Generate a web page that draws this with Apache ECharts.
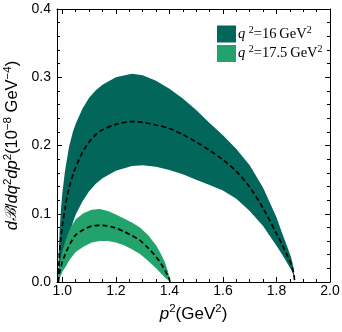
<!DOCTYPE html>
<html>
<head>
<meta charset="utf-8">
<script src="https://cdn.jsdelivr.net/npm/echarts@6/dist/echarts.min.js"></script>
<style>
  html, body { margin: 0; padding: 0; background: #fff; }
  #chart { width: 342px; height: 332px; }
</style>
</head>
<body>
<div id="chart"></div>
<script>
// q^2 = 16 GeV^2 band (dark)
var xDark = [0.985, 0.987, 0.99, 0.995, 1.0, 1.01, 1.025, 1.04, 1.05, 1.075, 1.1, 1.125, 1.15, 1.2, 1.26, 1.3, 1.35, 1.4, 1.45, 1.5, 1.55, 1.6, 1.65, 1.7, 1.75, 1.8, 1.82, 1.84, 1.855, 1.862, 1.866, 1.868];
var darkUpper = [0, 0.045, 0.078, 0.108, 0.13, 0.163, 0.198, 0.221, 0.232, 0.254, 0.27, 0.281, 0.289, 0.3, 0.305, 0.303, 0.295, 0.283, 0.269, 0.252, 0.233, 0.215, 0.195, 0.171, 0.138, 0.095, 0.073, 0.052, 0.036, 0.024, 0.011, 0];
var darkLower = [0, 0.006, 0.013, 0.023, 0.033, 0.05, 0.07, 0.088, 0.099, 0.118, 0.133, 0.144, 0.152, 0.163, 0.17, 0.171, 0.169, 0.164, 0.158, 0.15, 0.142, 0.134, 0.122, 0.104, 0.082, 0.053, 0.041, 0.028, 0.018, 0.011, 0.005, 0];
var darkMid = [0, 0.025, 0.045, 0.066, 0.082, 0.108, 0.138, 0.158, 0.168, 0.19, 0.205, 0.216, 0.223, 0.231, 0.235, 0.234, 0.23, 0.225, 0.216, 0.205, 0.193, 0.179, 0.162, 0.139, 0.108, 0.071, 0.056, 0.039, 0.026, 0.017, 0.008, 0];

// q^2 = 17.5 GeV^2 band (light)
var xLight = [0.985, 0.988, 0.995, 1.0, 1.01, 1.02, 1.03, 1.05, 1.08, 1.11, 1.14, 1.17, 1.2, 1.23, 1.26, 1.29, 1.32, 1.35, 1.37, 1.385, 1.395, 1.4, 1.402];
var lightUpper = [0, 0.02, 0.036, 0.045, 0.058, 0.069, 0.079, 0.092, 0.101, 0.106, 0.107, 0.104, 0.099, 0.093, 0.087, 0.08, 0.069, 0.054, 0.04, 0.027, 0.015, 0.007, 0];
var lightLower = [0, 0.004, 0.01, 0.015, 0.021, 0.028, 0.034, 0.044, 0.052, 0.058, 0.06, 0.06, 0.058, 0.054, 0.048, 0.041, 0.031, 0.02, 0.012, 0.006, 0.003, 0.001, 0];
var lightMid = [0, 0.012, 0.022, 0.03, 0.04, 0.049, 0.057, 0.069, 0.077, 0.082, 0.083, 0.082, 0.079, 0.074, 0.068, 0.061, 0.05, 0.037, 0.026, 0.016, 0.008, 0.004, 0];

var xMajor = [1.0, 1.2, 1.4, 1.6, 1.8, 2.0];
var xMinor = [1.05, 1.1, 1.15, 1.25, 1.3, 1.35, 1.45, 1.5, 1.55, 1.65, 1.7, 1.75, 1.85, 1.9, 1.95];
var yMajor = [0, 0.1, 0.2, 0.3, 0.4];
var yMinor = [0.02, 0.04, 0.06, 0.08, 0.12, 0.14, 0.16, 0.18, 0.22, 0.24, 0.26, 0.28, 0.32, 0.34, 0.36, 0.38];

var names = ['q16', 'q175'];
var DARK = '#03665a';
var LIGHT = '#22a36b';
var SANS = 'Liberation Sans';
var SERIF = 'Liberation Serif';

var chart = echarts.init(document.getElementById('chart'));

function zip(xs, ys) {
    return xs.map(function (x, i) { return [x, ys[i]]; });
}

// filled region between lo and hi, one polygon
function band(name, xs, lo, hi, color) {
    return {
        name: name,
        type: 'custom',
        silent: true,
        itemStyle: {color: color},
        data: xs.map(function (x, i) { return [x, lo[i], hi[i]]; }),
        encode: {x: 0, y: [1, 2]},
        renderItem: function (params, api) {
            if (params.dataIndex !== 0) return;
            var pts = [];
            for (var i = 0; i < xs.length; i++) pts.push(api.coord([xs[i], hi[i]]));
            for (var j = xs.length - 1; j >= 0; j--) pts.push(api.coord([xs[j], lo[j]]));
            return {type: 'polygon', shape: {points: pts}, style: {fill: color}};
        }
    };
}

function dashed(xs, ys) {
    return {
        type: 'line',
        silent: true,
        symbol: 'none',
        smooth: 0.3,
        z: 5,
        lineStyle: {color: '#000', width: 1.7, type: [5, 3]},
        data: zip(xs, ys)
    };
}

function xAx(pos, ticks, len, main) {
    return {
        type: 'value', position: pos, min: 0.98, max: 2.0,
        axisLine: {show: main, onZero: false, lineStyle: {color: '#000', width: 1}},
        axisTick: {show: true, inside: true, length: len, customValues: ticks, lineStyle: {color: '#000'}},
        axisLabel: {show: pos === 'bottom' && main, customValues: ticks, margin: 2,
            fontFamily: SANS, fontSize: 14, color: '#000',
            formatter: function (v) { return v.toFixed(1); }},
        splitLine: {show: false}
    };
}

function yAx(pos, ticks, len, main) {
    return {
        type: 'value', position: pos, min: 0, max: 0.4,
        axisLine: {show: main, onZero: false, lineStyle: {color: '#000', width: 1}},
        axisTick: {show: true, inside: true, length: len, customValues: ticks, lineStyle: {color: '#000'}},
        axisLabel: {show: pos === 'left' && main, customValues: ticks, margin: 6,
            fontFamily: SANS, fontSize: 14, color: '#000',
            formatter: function (v) { return v.toFixed(1); }},
        splitLine: {show: false}
    };
}

var supStyle = {fontFamily: SANS, fontSize: 11.5, lineHeight: 10, verticalAlign: 'top', color: '#000'};

var xAxes = [xAx('bottom', xMajor, 5, true), xAx('bottom', xMinor, 3, false),
             xAx('top', xMajor, 5, true), xAx('top', xMinor, 3, false)];
xAxes[0].name = '{i|p}{s|2}{n|(GeV}{s|2}{n|)}';
xAxes[0].nameLocation = 'middle';
xAxes[0].nameGap = 21;
xAxes[0].nameTextStyle = {fontFamily: SANS, fontSize: 17, color: '#000',
    rich: {
        i: {fontFamily: SANS, fontSize: 17, lineHeight: 22, fontStyle: 'italic', color: '#000'},
        n: {fontFamily: SANS, fontSize: 17, lineHeight: 22, color: '#000'},
        s: supStyle
    }};

var yAxes = [yAx('left', yMajor, 5, true), yAx('left', yMinor, 3, false),
             yAx('right', yMajor, 5, true), yAx('right', yMinor, 3, false)];
yAxes[0].name = '{i|d}{b|\u212C}{n|/}{i|dq}{s|2}{i|dp}{s|2}{n|(10}{s|\u22128}{n| GeV}{s|\u22124}{n|)}';
yAxes[0].nameLocation = 'middle';
yAxes[0].nameRotate = 90;
yAxes[0].nameGap = 31;
yAxes[0].nameTextStyle = {fontFamily: SANS, fontSize: 16.5, color: '#000',
    rich: {
        i: {fontFamily: SANS, fontSize: 16.5, lineHeight: 20, fontStyle: 'italic', color: '#000'},
        b: {fontFamily: 'DejaVu Serif', fontSize: 15.5, lineHeight: 20, fontStyle: 'italic', color: '#000'},
        n: {fontFamily: SANS, fontSize: 16.5, lineHeight: 20, color: '#000'},
        s: supStyle
    }};

var series = [
    band(names[0], xDark, darkLower, darkUpper, DARK),
    band(names[1], xLight, lightLower, lightUpper, LIGHT),
    dashed(xDark, darkMid),
    dashed(xLight, lightMid)
];
series.forEach(function (s) { s.xAxisIndex = 0; s.yAxisIndex = 0; });

chart.setOption({
    animation: false,
    backgroundColor: '#fff',
    grid: {left: 57, right: 12, top: 9, bottom: 50, outerBoundsMode: 'none'},
    legend: {
        left: 212, top: 20, orient: 'vertical',
        itemWidth: 19, itemHeight: 17, itemGap: 2,
        icon: 'rect',
        data: [{name: names[0], itemStyle: {color: DARK}}, {name: names[1], itemStyle: {color: LIGHT}}],
        formatter: function (n) {
            return n === 'q16' ? '{i|q} {s|2}{t|=16\u2009GeV}{s|2}' : '{i|q} {s|2}{t|=17.5\u2009GeV}{s|2}';
        },
        textStyle: {
            fontFamily: SERIF, fontSize: 14, color: '#000', padding: [0, 0, 0, -3],
            rich: {
                i: {fontFamily: SERIF, fontSize: 14.5, lineHeight: 18, fontStyle: 'italic', color: '#000'},
                t: {fontFamily: SERIF, fontSize: 14.5, lineHeight: 18, color: '#000'},
                s: {fontFamily: SERIF, fontSize: 10, lineHeight: 10, verticalAlign: 'top', color: '#000'}
            }
        }
    },
    xAxis: xAxes,
    yAxis: yAxes,
    series: series
});
</script>
</body>
</html>
